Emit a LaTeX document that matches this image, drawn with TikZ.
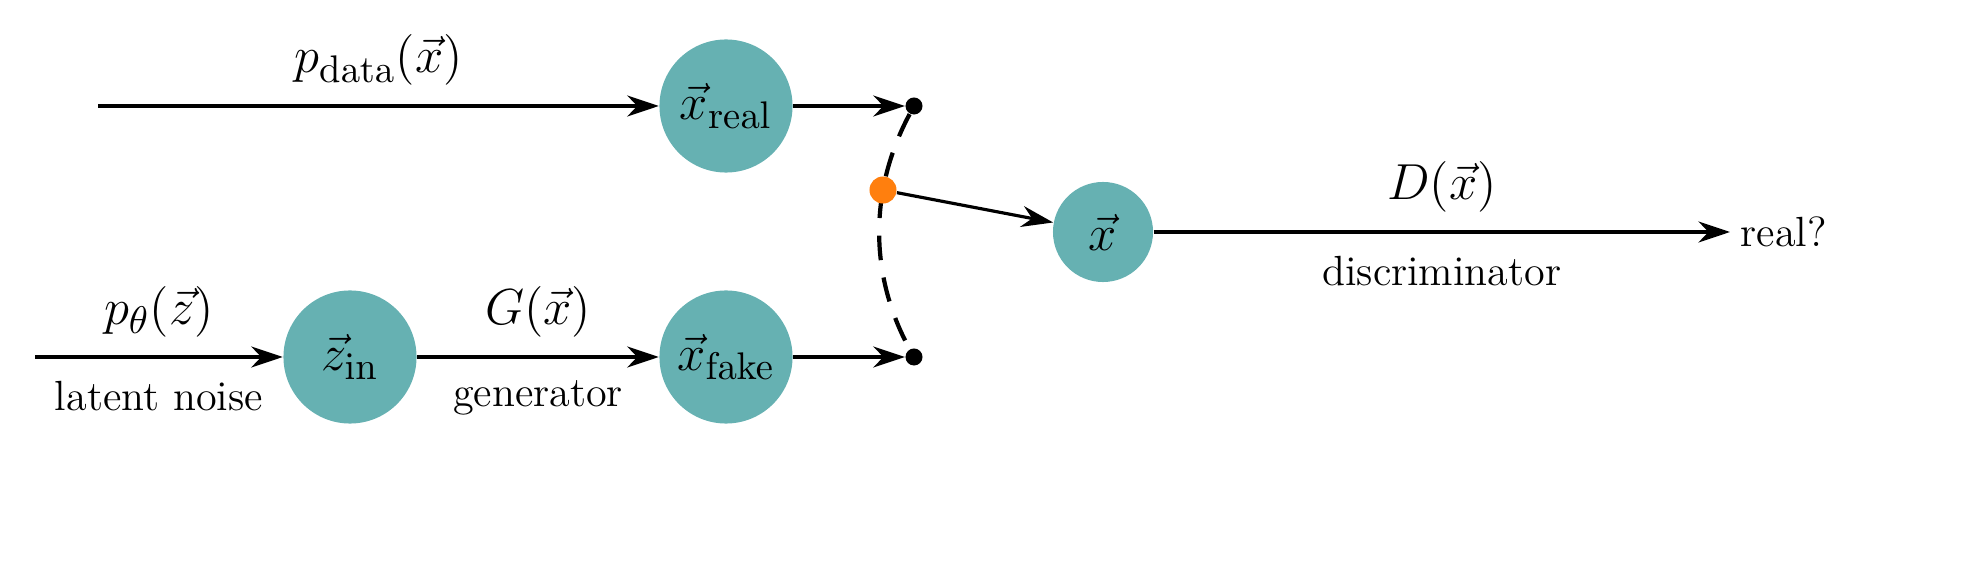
\documentclass[tikz,border=0pt]{standalone}
\usetikzlibrary{arrows.meta}
\begin{document}
\begin{tikzpicture}[x=0.01cm,y=-0.01cm,
  cnode/.style={circle,fill={rgb,255:red,102;green,177;blue,178},minimum size=#1,inner sep=0pt,font=\fontsize{15}{17}\selectfont},
  arr/.style={-{Stealth[length=9pt,width=6pt]},line width=0.9pt},
  dot/.style={circle,fill=black,minimum size=0.17cm,inner sep=0pt},
  ml/.style={font=\fontsize{15}{17}\selectfont},
  tl/.style={font=\fontsize{12}{14}\selectfont}]
\useasboundingbox (0,0) rectangle (1965,576);
\node[cnode=1.33cm] (xr) at (726,106) {$\vec{x}_{\mathrm{real}}$};
\node[cnode=1.33cm] (zi) at (350,357) {$\vec{z}_{\mathrm{in}}$};
\node[cnode=1.33cm] (xf) at (726,357) {$\vec{x}_{\mathrm{fake}}$};
\node[cnode=1.0cm] (xd) at (1103,232) {$\vec{x}$};
\node[dot] (dt) at (914,106) {};
\node[dot] (db) at (914,357) {};
\coordinate (s1) at (98,106);
\coordinate (s2) at (35,357);
\node[anchor=west,tl,inner sep=0pt] (real) at (1740,232) {real?};
\coordinate (re) at (1730,232);
\draw[arr] (s1) -- (xr) node[midway,above=2pt,ml] {$p_{\mathrm{data}}(\vec{x})$};
\draw[arr] (s2) -- (zi) node[midway,above=2pt,ml] {$p_{\theta}(\vec{z})$} node[midway,below=3pt,tl] {latent noise};
\draw[arr] (zi) -- (xf) node[midway,above=2pt,ml] {$G(\vec{x})$} node[midway,below=3pt,tl] {generator};
\draw[arr] (xr) -- (dt);
\draw[arr] (xf) -- (db);
\draw[line width=1.2pt,dash pattern=on 7pt off 5pt] (dt) .. controls (869,190) and (869,275) .. (db);
\node[circle,fill={rgb,255:red,255;green,127;blue,14},minimum size=0.27cm,inner sep=0pt] (o) at (883,190) {};
\draw[arr] (o) -- (xd);
\draw[arr] (xd) -- (re) node[midway,above=2pt,ml] {$D(\vec{x})$} node[midway,below=3pt,tl] {discriminator};
\end{tikzpicture}
\end{document}
